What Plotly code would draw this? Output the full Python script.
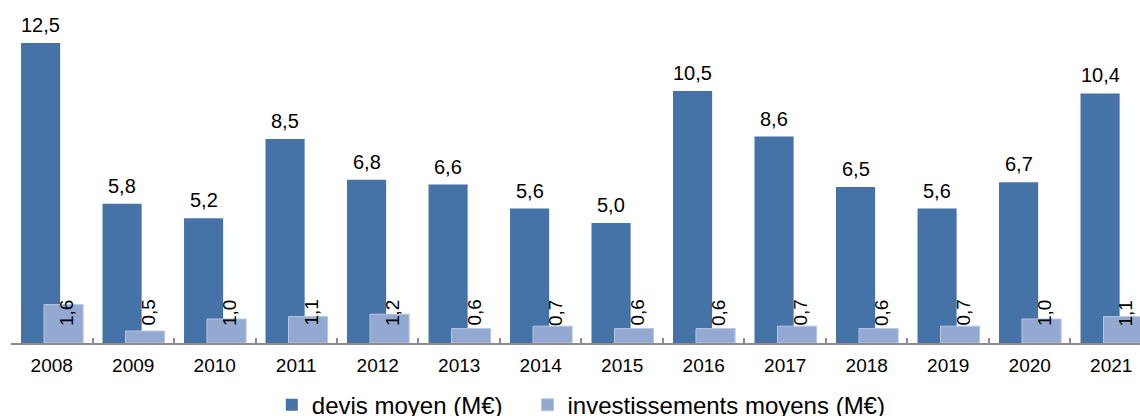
import plotly.graph_objects as go

# data
years = ['2008', '2009', '2010', '2011', '2012', '2013', '2014',
         '2015', '2016', '2017', '2018', '2019', '2020', '2021']
devis = [12.5, 5.8, 5.2, 8.5, 6.8, 6.6, 5.6, 5.0, 10.5, 8.6, 6.5, 5.6, 6.7, 10.4]
invest = [1.6, 0.5, 1.0, 1.1, 1.2, 0.6, 0.7, 0.6, 0.6, 0.7, 0.6, 0.7, 1.0, 1.1]

def fr(v):
    return f'{v:.1f}'.replace('.', ',')

DARK = '#4572A7'
LIGHT = '#93A9D1'
FONT = 'Liberation Sans, Arial, sans-serif'

bar_w = 0.48
dark_off = -0.377
light_off = -0.095

fig = go.Figure()
fig.add_trace(go.Bar(
    x=years, y=devis, name='devis moyen (M€)\u00a0\u00a0\u00a0',
    marker=dict(color=DARK, line=dict(width=0)),
    width=bar_w, offset=dark_off,
))
fig.add_trace(go.Bar(
    x=years, y=invest, name='investissements moyens (M€)',
    marker=dict(color=LIGHT, line=dict(color='#B8C6E2', width=1)),
    width=bar_w, offset=light_off,
))

annotations = []
for i, v in enumerate(devis):
    annotations.append(dict(
        x=i + dark_off + bar_w / 2, y=v, xref='x', yref='y',
        text=fr(v), showarrow=False, yanchor='bottom', yshift=5,
        font=dict(size=20, color='#000000', family=FONT),
    ))
# rotated labels of the small bars sit at one common level
label_level = 1.25
for i, v in enumerate(invest):
    annotations.append(dict(
        x=i + light_off + bar_w / 2 + 0.03, y=label_level, xref='x', yref='y',
        text=fr(v), showarrow=False, textangle=-90,
        font=dict(size=19, color='#000000', family=FONT),
    ))

fig.update_layout(
    width=1140, height=416,
    margin=dict(l=11, r=0, t=7, b=73, autoexpand=False),
    paper_bgcolor='white', plot_bgcolor='white',
    barmode='overlay',
    showlegend=True,
    legend=dict(orientation='h', x=0.231, xanchor='left', y=-0.185, yanchor='middle',
                font=dict(size=24, color='#000000', family=FONT),
                traceorder='normal'),
    annotations=annotations,
    xaxis=dict(
        type='category', range=[-0.5, 13.353], automargin=False,
        showline=True, linecolor='#8C8C8C', linewidth=2,
        ticks='inside', tickson='boundaries', ticklen=5, tickcolor='#8C8C8C', tickwidth=2,
        tickfont=dict(size=19, color='#000000', family=FONT),
        ticklabelstandoff=4,
        showgrid=False, zeroline=False,
    ),
    yaxis=dict(range=[0, 14], visible=False, showgrid=False, zeroline=False, automargin=False),
    font=dict(family=FONT),
)

# the page body has a default 8px margin; drop it so the figure sits at the corner
fig.write_html('out.html', config={'displayModeBar': False},
               post_script="document.body.style.margin='0';")
